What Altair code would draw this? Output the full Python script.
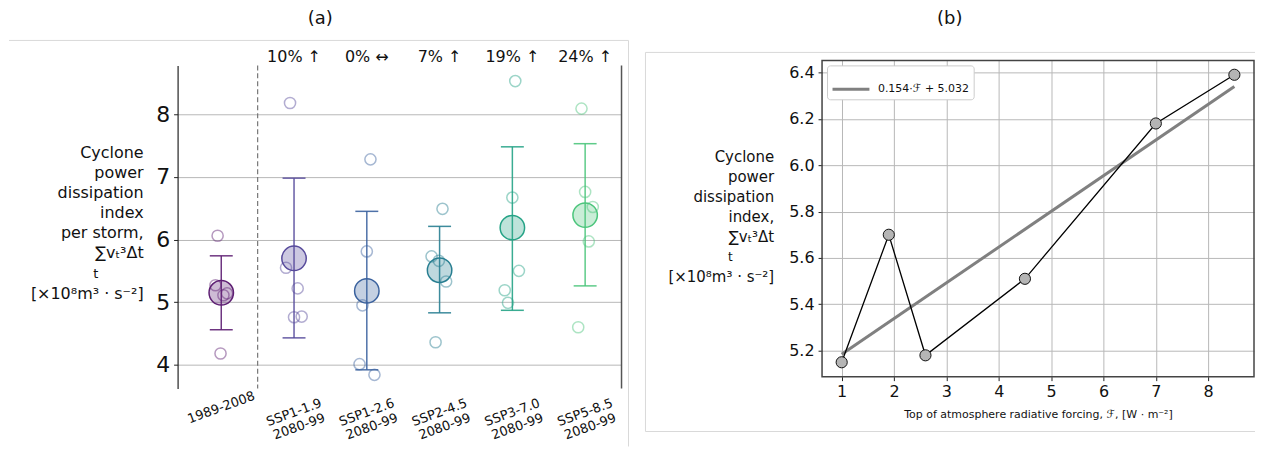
import altair as alt
import pandas as pd

FONT = "DejaVu Sans"

# ---------------- panel (a) data ----------------
CATEGORIES = ["1989-2008", "SSP1-1.9\n2080-99", "SSP1-2.6\n2080-99",
              "SSP2-4.5\n2080-99", "SSP3-7.0\n2080-99", "SSP5-8.5\n2080-99"]
POSITIONS = [0, 1, 2, 3, 4, 5]
COLORS = ["#5e1f73", "#574a9b", "#3b629e", "#287e91", "#25a386", "#4cc57c"]
MEANS = [5.15, 5.70, 5.18, 5.51, 6.19, 6.39]
ERR_LO = [4.56, 4.43, 3.92, 4.83, 4.87, 5.26]
ERR_HI = [5.74, 6.98, 6.45, 6.21, 7.48, 7.53]
CHANGE_POS = [1, 2, 3, 4, 5]
CHANGE_LABELS = ["10% ↑", "0% ↔", "7% ↑", "19% ↑", "24% ↑"]
MEMBERS = [
    [6.06, 4.18, 5.27, 5.11, 5.14],
    [8.18, 5.55, 5.22, 4.76, 4.77],
    [7.28, 5.81, 4.95, 4.01, 3.84],
    [6.49, 5.73, 5.66, 5.33, 4.36],
    [8.53, 6.67, 5.50, 5.19, 4.99],
    [8.09, 6.76, 6.52, 5.97, 4.60],
]
JITTER = [
    [-0.05, -0.01, -0.08, 0.03, 0.08],
    [-0.055, -0.11, 0.05, 0.0, 0.105],
    [0.05, 0.0, -0.06, -0.1, 0.105],
    [0.04, -0.11, -0.01, 0.09, -0.055],
    [0.04, 0.0, 0.09, -0.105, -0.06],
    [-0.05, 0.0, 0.105, 0.05, -0.095],
]
SEPARATOR_X = [0.5]
Y_TICKS_A = [4, 5, 6, 7, 8]

# ---------------- panel (b) data ----------------
FORCING = [1.0, 1.9, 2.6, 4.5, 7.0, 8.5]
PDI = [5.15, 5.70, 5.18, 5.51, 6.18, 6.39]
FIT_LABEL = "0.154·ℱ + 5.032"
X_TICKS_B = [1, 2, 3, 4, 5, 6, 7, 8]
Y_TICKS_B = [5.2, 5.4, 5.6, 5.8, 6.0, 6.2, 6.4]

TITLE_A = "Cyclone\npower\ndissipation\nindex\nper storm,\n∑vₜ³Δt"
TITLE_B = "Cyclone\npower\ndissipation\nindex,\n∑vₜ³Δt"
SUM_INDEX = "t"
UNITS = "[×10⁸m³ · s⁻²]"
X_TITLE_B = "Top of atmosphere radiative forcing, ℱ, [W · m⁻²]"

one = pd.DataFrame({"k": [0]})
txt = lambda s: pd.DataFrame({"t": [s]})

# ================= panel (a) =================
W1, H1, DY = 445, 324, 5
summary = pd.DataFrame({"pos": POSITIONS, "cat": CATEGORIES, "mean": MEANS,
                        "lo": ERR_LO, "hi": ERR_HI})
rows = []
for p, c, vals, offs in zip(POSITIONS, CATEGORIES, MEMBERS, JITTER):
    for v, o in zip(vals, offs):
        rows.append({"xp": p + o, "val": v, "cat": c})
members = pd.DataFrame(rows)
changes = pd.DataFrame({"pos": CHANGE_POS, "label": CHANGE_LABELS})
sep = pd.DataFrame({"sep": SEPARATOR_X})

xs_a = alt.Scale(domain=[-0.6, 5.5], nice=False, zero=False)
ys_a = alt.Scale(domain=[3.62, 8.78], nice=False, zero=False, range=[H1 + DY, DY])
cs_a = alt.Scale(domain=CATEGORIES, range=COLORS)
yaxis_a = alt.Axis(values=Y_TICKS_A, grid=True, gridColor="#b8b8b8", gridWidth=1,
                   domainColor="#222222", domainWidth=1.2, tickColor="#222222",
                   tickSize=4, labelFontSize=22, labelPadding=4, labelColor="#111111",
                   labelFont=FONT, title=None, format="d")
X_A = alt.X("pos:Q", scale=xs_a, axis=None)


def label_text(s, x, y, size, align="right"):
    return alt.Chart(txt(s)).mark_text(fontSize=size, font=FONT, align=align,
                                       baseline="middle", lineBreak="\n", lineHeight=20,
                                       color="#111111").encode(
        x=alt.value(x), y=alt.value(y), text="t:N")


grid_a = alt.Chart(summary).mark_rule(opacity=0).encode(
    x=X_A, y=alt.Y("mean:Q", scale=ys_a, axis=yaxis_a))
right_spine = alt.Chart(one).mark_rule(color="#555555", strokeWidth=1.5).encode(
    x=alt.value(W1), y=alt.value(DY), y2=alt.value(H1 + DY))
sep_rule = alt.Chart(sep).mark_rule(color="#777777", strokeWidth=1.2, strokeDash=[5, 3]).encode(
    x=alt.X("sep:Q", scale=xs_a, axis=None), y=alt.value(DY), y2=alt.value(H1 + DY))
err = alt.Chart(summary).mark_rule(strokeWidth=1.5, opacity=0.9).encode(
    x=X_A, y=alt.Y("lo:Q", scale=ys_a), y2="hi:Q",
    color=alt.Color("cat:N", scale=cs_a, legend=None))
cap_lo = alt.Chart(summary).mark_tick(orient="horizontal", size=23, thickness=1.5, opacity=0.9).encode(
    x=X_A, y=alt.Y("lo:Q", scale=ys_a),
    color=alt.Color("cat:N", scale=cs_a, legend=None))
cap_hi = alt.Chart(summary).mark_tick(orient="horizontal", size=23, thickness=1.5, opacity=0.9).encode(
    x=X_A, y=alt.Y("hi:Q", scale=ys_a),
    color=alt.Color("cat:N", scale=cs_a, legend=None))
pts = alt.Chart(members).mark_point(shape="circle", filled=False, size=125,
                                    strokeWidth=1.5, opacity=0.45).encode(
    x=alt.X("xp:Q", scale=xs_a, axis=None),
    y=alt.Y("val:Q", scale=ys_a),
    color=alt.Color("cat:N", scale=cs_a, legend=None))
means = alt.Chart(summary).mark_point(shape="circle", filled=True, size=600,
                                      fillOpacity=0.3, strokeOpacity=1, strokeWidth=1.5).encode(
    x=X_A, y=alt.Y("mean:Q", scale=ys_a),
    fill=alt.Fill("cat:N", scale=cs_a, legend=None),
    stroke=alt.Stroke("cat:N", scale=cs_a, legend=None))
change_txt = alt.Chart(changes).mark_text(fontSize=16, font=FONT, baseline="middle",
                                          color="#111111").encode(
    x=X_A, y=alt.value(DY - 8), text="label:N")
xlab1 = alt.Chart(summary.iloc[:1]).mark_text(fontSize=13, font=FONT, angle=340, align="center",
                                              baseline="middle", lineBreak="\n", lineHeight=15,
                                              color="#111111").encode(
    x=X_A, y=alt.value(DY + H1 + 19), text="cat:N")
xlab2 = alt.Chart(summary.iloc[1:]).mark_text(fontSize=13, font=FONT, angle=340, align="center",
                                              baseline="middle", lineBreak="\n", lineHeight=15,
                                              color="#111111").encode(
    x=X_A, y=alt.value(DY + H1 + 24), text="cat:N")
ytitle_a = label_text(TITLE_A, -34, 93, 16)
sum_idx_a = label_text(SUM_INDEX, -82, 214, 13, align="center")
units_a = label_text(UNITS, -34, 234, 16)
name_a = label_text("(a)", 143, -41, 18, align="center")
frame_a_top = alt.Chart(one).mark_rule(color="#d9d9d9", strokeWidth=1).encode(
    x=alt.value(-169), x2=alt.value(W1 + 7), y=alt.value(-20))
frame_a_right = alt.Chart(one).mark_rule(color="#d9d9d9", strokeWidth=1).encode(
    x=alt.value(W1 + 7), y=alt.value(-20), y2=alt.value(H1 + DY + 58))

panel_a = alt.layer(
    frame_a_top, frame_a_right, grid_a, right_spine, sep_rule, err, cap_lo, cap_hi,
    pts, means, change_txt, xlab1, xlab2, ytitle_a, sum_idx_a, units_a, name_a
).properties(width=W1, height=H1 + DY)

# ================= panel (b) =================
W2, H2 = 433, 317
dfb = pd.DataFrame({"F": FORCING, "PDI": PDI})

xs_b = alt.Scale(domain=[0.625, 8.875], nice=False, zero=False)
ys_b = alt.Scale(domain=[5.088, 6.452], nice=False, zero=False)
xaxis_b = alt.Axis(values=X_TICKS_B, grid=True, gridColor="#b8b8b8", gridWidth=1,
                   domain=False, tickColor="#222222", tickSize=4, labelFontSize=16,
                   labelFont=FONT, labelColor="#111111", labelPadding=3, format="d",
                   title=X_TITLE_B, titleFontSize=11, titleFont=FONT, titleFontWeight="normal",
                   titleColor="#111111", titleY=38, titleBaseline="middle")
yaxis_b = alt.Axis(values=Y_TICKS_B, grid=True, gridColor="#b8b8b8", gridWidth=1,
                   domain=False, tickColor="#222222", tickSize=4, labelFontSize=16,
                   labelFont=FONT, labelColor="#111111", labelPadding=4, format=".1f",
                   title=None)

top_anchor = alt.Chart(one).mark_rule(strokeOpacity=0).encode(
    x=alt.value(0), x2=alt.value(10), y=alt.value(-52))
frame_plot_b = alt.Chart(one).mark_rect(fillOpacity=0, stroke="#444444", strokeWidth=1.5).encode(
    x=alt.value(0), x2=alt.value(W2), y=alt.value(0), y2=alt.value(H2))
fit = alt.Chart(dfb).transform_regression("F", "PDI").transform_calculate(
    lab="'" + FIT_LABEL + "'"
).mark_line(strokeWidth=3).encode(
    x=alt.X("F:Q", scale=xs_b, axis=xaxis_b),
    y=alt.Y("PDI:Q", scale=ys_b, axis=yaxis_b),
    color=alt.Color("lab:N", scale=alt.Scale(domain=[FIT_LABEL], range=["#808080"]),
                    legend=alt.Legend(orient="top-left", title=None, symbolType="stroke",
                                      symbolStrokeWidth=3, symbolSize=1369,
                                      labelFontSize=11, labelFont=FONT, labelColor="#111111",
                                      fillColor="white", strokeColor="#cccccc",
                                      cornerRadius=3, padding=4, offset=5, labelOffset=7)))
line_b = alt.Chart(dfb).mark_line(color="black", strokeWidth=1.3).encode(
    x=alt.X("F:Q", scale=xs_b), y=alt.Y("PDI:Q", scale=ys_b))
pts_b = alt.Chart(dfb).mark_point(shape="circle", filled=True, size=125, fill="#b5b5b5",
                                  stroke="#111111", strokeWidth=1, opacity=1).encode(
    x=alt.X("F:Q", scale=xs_b), y=alt.Y("PDI:Q", scale=ys_b))
ytitle_b = label_text(TITLE_B, -48, 97, 15)
sum_idx_b = label_text(SUM_INDEX, -92, 197, 12, align="center")
units_b = label_text(UNITS, -48, 217, 15)
name_b = label_text("(b)", 128, -41, 18, align="center")
frame_b_top = alt.Chart(one).mark_rule(color="#d9d9d9", strokeWidth=1).encode(
    x=alt.value(-177), x2=alt.value(W2 + 1), y=alt.value(-8))
frame_b_bottom = alt.Chart(one).mark_rule(color="#d9d9d9", strokeWidth=1).encode(
    x=alt.value(-177), x2=alt.value(W2 + 1), y=alt.value(H2 + 55))
frame_b_left = alt.Chart(one).mark_rule(color="#d9d9d9", strokeWidth=1).encode(
    x=alt.value(-177), y=alt.value(-8), y2=alt.value(H2 + 55))

panel_b = alt.layer(
    top_anchor, frame_b_top, frame_b_bottom, frame_b_left, fit, line_b, pts_b, frame_plot_b,
    ytitle_b, sum_idx_b, units_b, name_b
).properties(width=W2, height=H2)

chart = alt.hconcat(panel_a, panel_b, spacing=15).resolve_scale(
    color="independent"
).properties(padding=0).configure(font=FONT, view=alt.ViewConfig(stroke=None))

chart.save("out.html", embed_options={"renderer": "svg", "actions": False})
